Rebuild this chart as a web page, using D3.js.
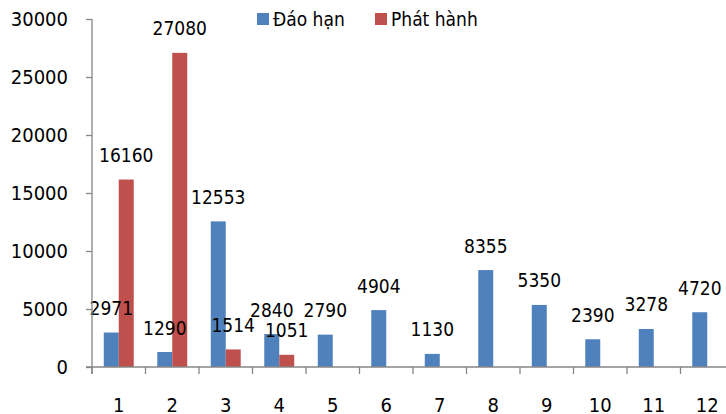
<!DOCTYPE html>
<html>
<head>
<meta charset="utf-8">
<script src="https://cdn.jsdelivr.net/npm/d3@7/dist/d3.min.js"></script>
<style>
  html, body { margin: 0; padding: 0; background: #fff; }
  svg text { font-family: 'DejaVu Sans Condensed', 'DejaVu Sans', sans-serif; font-stretch: condensed; fill: #000; }
</style>
</head>
<body>
<svg id="chart" width="726" height="414"></svg>
<script>
// Monthly maturities vs. issuance
const months = ["1", "2", "3", "4", "5", "6", "7", "8", "9", "10", "11", "12"];
const seriesNames = ["Đáo hạn", "Phát hành"];
const daoHan = [2971, 1290, 12553, 2840, 2790, 4904, 1130, 8355, 5350, 2390, 3278, 4720];
const phatHanh = [16160, 27080, 1514, 1051, null, null, null, null, null, null, null, null];
const yTicks = [0, 5000, 10000, 15000, 20000, 25000, 30000];
const colors = ["#4F81BD", "#C0504D"];

const svg = d3.select("#chart");
const left = 92, zeroY = 367, topY = 19, bandW = 53.5;

const x = d3.scaleBand().domain(months).range([left, left + bandW * months.length]);
const x1 = d3.scaleBand().domain(seriesNames).range([x.bandwidth() * 0.22, x.bandwidth() * 0.78]);
const y = d3.scaleLinear().domain([0, 30000]).range([zeroY, topY]);

const rows = months.map((m, i) => ({ month: m, values: [daoHan[i], phatHanh[i]] }));

// Bars
const groups = svg.append("g").selectAll("g").data(rows).join("g")
  .attr("transform", d => `translate(${x(d.month)},0)`);

groups.selectAll("rect")
  .data(d => d.values.map((v, k) => ({ name: seriesNames[k], v, k })).filter(e => e.v != null))
  .join("rect")
  .attr("x", e => x1(e.name))
  .attr("width", x1.bandwidth())
  .attr("y", e => y(e.v))
  .attr("height", e => y(0) - y(e.v))
  .attr("fill", e => colors[e.k]);

// Axes
const yAxis = svg.append("g")
  .attr("transform", `translate(${left},0)`)
  .call(d3.axisLeft(y).tickValues(yTicks).tickSize(6).tickPadding(18).tickFormat(d3.format("d")));
yAxis.select(".domain").attr("d", `M0,${topY}V${zeroY + 7}`);

const xAxis = svg.append("g").attr("transform", `translate(0,${zeroY})`);
xAxis.append("line")
  .attr("x1", left - 6).attr("x2", x.range()[1]).attr("y1", 0).attr("y2", 0);
xAxis.selectAll("line.tick")
  .data(months).join("line").attr("class", "tick")
  .attr("x1", d => x(d)).attr("x2", d => x(d)).attr("y1", 0).attr("y2", 7);
xAxis.selectAll("text")
  .data(months).join("text")
  .attr("x", d => x(d) + x.bandwidth() / 2)
  .attr("y", 45)
  .attr("text-anchor", "middle")
  .style("font-size", "20px")
  .text(d => d);

svg.selectAll("g line, .domain").attr("stroke", "#868686").attr("stroke-width", 1.3);
yAxis.selectAll("text").style("font-size", "20px").attr("fill", "#000");

// Value labels above each bar
groups.selectAll("text.val")
  .data(d => d.values.map((v, k) => ({ name: seriesNames[k], v, k })).filter(e => e.v != null))
  .join("text").attr("class", "val")
  .attr("x", e => x1(e.name) + x1.bandwidth() / 2)
  .attr("y", e => y(e.v) - 17.5)
  .attr("text-anchor", "middle")
  .style("font-size", "19px")
  .text(e => e.v);

// Legend
const legendX = [257, 375];
const legend = svg.append("g").selectAll("g").data(seriesNames).join("g")
  .attr("transform", (d, i) => `translate(${legendX[i]},13)`);
legend.append("rect").attr("width", 12).attr("height", 12).attr("fill", (d, i) => colors[i]);
legend.append("text").attr("x", 16).attr("y", 13).style("font-size", "19px").text(d => d);
</script>
</body>
</html>
